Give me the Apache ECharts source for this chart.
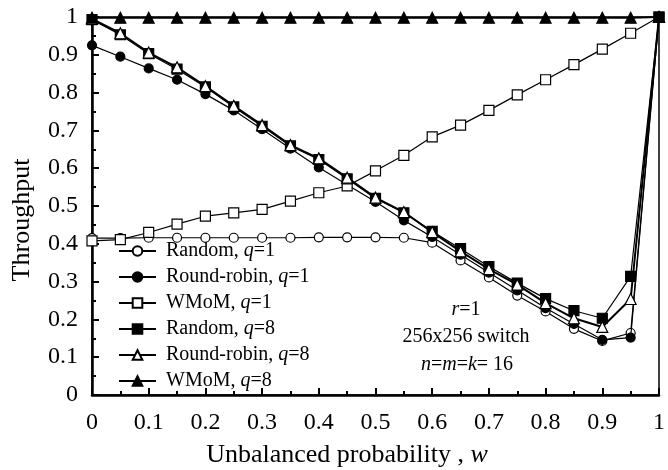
<!DOCTYPE html>
<html><head><meta charset="utf-8">
<script src="https://cdn.jsdelivr.net/npm/echarts@6/dist/echarts.min.js"></script>
<style>html,body{margin:0;padding:0;background:#fff}#c{width:668px;height:470px}</style>
</head><body><div id="c"></div>
<script>
const xValues = [0,0.05,0.1,0.15,0.2,0.25,0.3,0.35,0.4,0.45,0.5,0.55,0.6,0.65,0.7,0.75,0.8,0.85,0.9,0.95,1];
const randomQ1 = [0.415,0.415,0.416,0.416,0.416,0.416,0.416,0.416,0.417,0.417,0.417,0.416,0.403,0.356,0.311,0.263,0.221,0.175,0.143,0.164,1];
const roundRobinQ1 = [0.925,0.895,0.864,0.834,0.796,0.753,0.703,0.652,0.602,0.556,0.511,0.462,0.418,0.371,0.324,0.277,0.230,0.188,0.146,0.152,1];
const wmomQ1 = [0.408,0.411,0.430,0.452,0.473,0.482,0.491,0.513,0.535,0.553,0.593,0.634,0.683,0.714,0.753,0.794,0.834,0.874,0.915,0.957,1];
const randomQ8 = [0.993,0.953,0.903,0.862,0.815,0.762,0.711,0.659,0.623,0.572,0.520,0.482,0.433,0.387,0.340,0.296,0.255,0.223,0.203,0.314,1];
const roundRobinQ8 = [0.995,0.957,0.906,0.867,0.817,0.765,0.714,0.661,0.626,0.575,0.522,0.484,0.431,0.380,0.333,0.292,0.243,0.203,0.180,0.254,1];
const wmomQ8 = [0.998,0.998,0.998,0.998,0.998,0.998,0.998,0.998,0.998,0.998,0.998,0.998,0.998,0.998,0.998,0.998,0.998,0.998,0.998,0.998,1];
const seriesNames = ['Random, q=1','Round-robin, q=1','WMoM, q=1','Random, q=8','Round-robin, q=8','WMoM, q=8'];
const xTickLabels = ['0','0.1','0.2','0.3','0.4','0.5','0.6','0.7','0.8','0.9','1'];
const yTickLabels = ['0','0.1','0.2','0.3','0.4','0.5','0.6','0.7','0.8','0.9','1'];

const FONT = '"Liberation Serif","Times New Roman",serif';
const pair = arr => arr.map((v,i)=>[xValues[i], v]);
const styles = [
  {symbol:'circle', size:9, fill:'#fff', lw:1.2},
  {symbol:'circle', size:9, fill:'#000', lw:1.2},
  {symbol:'rect', size:10, fill:'#fff', lw:1.2},
  {symbol:'rect', size:10, fill:'#000', lw:1.2},
  {symbol:'triangle', size:11, fill:'#fff', lw:2},
  {symbol:'triangle', size:11, fill:'#000', lw:2}
];
const datas = [randomQ1, roundRobinQ1, wmomQ1, randomQ8, roundRobinQ8, wmomQ8];
const series = datas.map((d,i)=>({
  name: seriesNames[i], type:'line', data: pair(d),
  symbol: styles[i].symbol, symbolSize: styles[i].size, showSymbol:true,
  lineStyle:{color:'#000', width:styles[i].lw},
  itemStyle:{color:styles[i].fill, borderColor:'#000', borderWidth:1.2},
  z: 2+i, animation:false, clip:false
}));

const chart = echarts.init(document.getElementById('c'), null, {renderer:'canvas'});
const axisCommon = {
  type:'value', min:0, max:1, interval:0.1,
  axisLine:{show:true, lineStyle:{color:'#000', width:2.5}},
  axisTick:{show:true, inside:true, length:7, lineStyle:{color:'#000', width:2}},
  minorTick:{show:true, splitNumber:2, length:4, lineStyle:{color:'#000', width:2}},
  splitLine:{show:false},
};
chart.setOption({
  animation:false,
  backgroundColor:'#fff',
  grid:{left:92, right:1, top:17, bottom:75, show:true, borderColor:'#000', borderWidth:1.5, backgroundColor:'transparent'},
  xAxis: Object.assign({}, axisCommon, {
    axisLabel:{color:'#000', fontFamily:FONT, fontSize:24, margin:16, alignMaxLabel:'center', alignMinLabel:'center',
      formatter:(v)=>xTickLabels[Math.round(v*10)]}
  }),
  yAxis: Object.assign({}, axisCommon, {
    axisLabel:{color:'#000', fontFamily:FONT, fontSize:24, margin:14,
      formatter:(v)=>yTickLabels[Math.round(v*10)]}
  }),
  legend:{
    orient:'vertical', left:113, top:236, itemWidth:37, itemHeight:12, itemGap:6,
    data: seriesNames,
    formatter: n => n.replace('q=', '{i|q}='),
    textStyle:{color:'#000', fontFamily:FONT, fontSize:20, lineHeight:20, padding:[0,0,0,5],
      rich:{i:{fontStyle:'italic', fontFamily:FONT, fontSize:20, color:'#000'}}}
  },
  graphic:[
    {type:'text', x:347, y:455, style:{text:'Unbalanced probability , {i|w}', fill:'#000', font:'26px '+FONT, align:'center', verticalAlign:'middle',
      rich:{i:{fontStyle:'italic', fontFamily:FONT, fontSize:26, fill:'#000'}}}},
    {type:'text', x:22, y:220, rotation:Math.PI/2, style:{text:'Throughput', fill:'#000', font:'26px '+FONT, align:'center', verticalAlign:'middle'}},
    {type:'text', x:466, y:310, style:{text:'{i|r}=1', fill:'#000', font:'20px '+FONT, align:'center', verticalAlign:'middle',
      rich:{i:{fontStyle:'italic', fontFamily:FONT, fontSize:20, fill:'#000'}}}},
    {type:'text', x:466, y:337, style:{text:'256x256 switch', fill:'#000', font:'20px '+FONT, align:'center', verticalAlign:'middle'}},
    {type:'text', x:467, y:365, style:{text:'{i|n}={i|m}={i|k}= 16', fill:'#000', font:'20px '+FONT, align:'center', verticalAlign:'middle',
      rich:{i:{fontStyle:'italic', fontFamily:FONT, fontSize:20, fill:'#000'}}}}
  ],
  series: series
});
</script></body></html>
